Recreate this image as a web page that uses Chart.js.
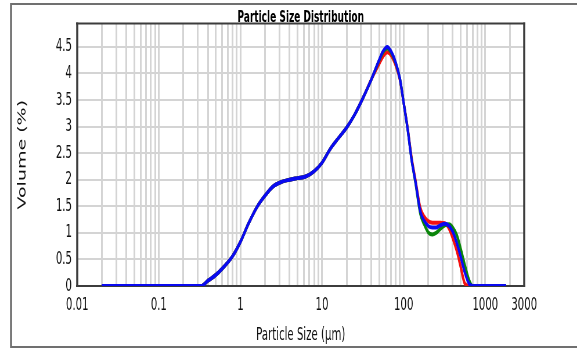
<!DOCTYPE html>
<html>
<head>
<meta charset="utf-8">
<script src="https://cdn.jsdelivr.net/npm/chart.js@4.4.1/dist/chart.umd.min.js"></script>
<style>
    html, body { margin: 0; padding: 0; background: #fff; overflow: hidden; }
    /* the original picture is squeezed sideways, so draw wide and squeeze */
    #wrap { width: 994px; height: 349px; transform: scaleX(0.5805); transform-origin: 0 0; }
</style>
</head>
<body>
<div id="wrap"><canvas id="grafikPsd" width="994" height="349"></canvas></div>
<script>
// ukuran partikel (um), sumbu x
const sizes = [0.02, 0.1, 0.3, 0.33, 0.4, 0.5, 0.6, 0.8, 1, 1.26, 1.6, 2, 2.5, 3.2, 4, 5, 6.3, 8, 10, 12.6, 16, 20, 25, 32, 40, 50, 56, 63, 71, 80, 90, 100, 112, 125, 140, 160, 180, 200, 225, 250, 280, 320, 360, 400, 450, 500, 560, 630, 700, 800, 1800];

// volume (%) tiap pengukuran
const volumeBiru = [0, 0, 0, 0, 0.10, 0.21, 0.33, 0.56, 0.83, 1.18, 1.49, 1.70, 1.87, 1.96, 2.00, 2.03, 2.06, 2.16, 2.32, 2.58, 2.79, 2.98, 3.22, 3.55, 3.88, 4.25, 4.42, 4.50, 4.40, 4.20, 3.90, 3.45, 2.95, 2.38, 1.95, 1.40, 1.22, 1.13, 1.10, 1.10, 1.14, 1.17, 1.13, 1.02, 0.80, 0.55, 0.26, 0.05, 0, 0, 0];
const volumeHijau = [0, 0, 0, 0, 0.10, 0.21, 0.33, 0.56, 0.83, 1.18, 1.49, 1.70, 1.87, 1.96, 2.00, 2.03, 2.06, 2.16, 2.32, 2.58, 2.79, 2.98, 3.22, 3.55, 3.88, 4.24, 4.40, 4.47, 4.38, 4.19, 3.90, 3.45, 2.95, 2.38, 1.93, 1.36, 1.15, 1.01, 0.97, 1.00, 1.07, 1.14, 1.16, 1.10, 0.95, 0.70, 0.40, 0.12, 0, 0, 0];
const volumeMerah = [0, 0, 0, 0, 0.10, 0.21, 0.33, 0.56, 0.83, 1.18, 1.49, 1.70, 1.87, 1.96, 2.00, 2.03, 2.06, 2.16, 2.32, 2.58, 2.79, 2.98, 3.22, 3.55, 3.88, 4.18, 4.32, 4.40, 4.33, 4.15, 3.88, 3.45, 2.97, 2.42, 1.98, 1.47, 1.30, 1.22, 1.19, 1.19, 1.19, 1.18, 1.08, 0.90, 0.65, 0.36, 0.05, 0, 0, 0, 0];

// label sumbu
const xTickLabels = [0.01, 0.1, 1, 10, 100, 1000, 3000];
const yTicks = [0, 0.5, 1, 1.5, 2, 2.5, 3, 3.5, 4, 4.5];

document.addEventListener('DOMContentLoaded', function () {
    const FONT = "'DejaVu Sans', sans-serif";

    // bingkai luar dan bingkai area plot
    const bingkai = {
        id: 'bingkai',
        beforeDraw(chart) {
            const c = chart.ctx;
            c.save();
            c.fillStyle = '#fff';
            c.fillRect(0, 0, chart.width, chart.height);
            c.strokeStyle = '#707070';
            c.lineWidth = 2;
            c.beginPath();
            c.moveTo(chart.width, 4);
            c.lineTo(19, 4);
            c.moveTo(19, 347);
            c.lineTo(chart.width, 347);
            c.stroke();
            c.lineWidth = 3.5;
            c.beginPath();
            c.moveTo(19, 3);
            c.lineTo(19, 348);
            c.stroke();
            c.restore();
        },
        beforeDatasetsDraw(chart) {
            const a = chart.chartArea;
            const c = chart.ctx;
            c.save();
            c.strokeStyle = '#3c3c3c';
            c.lineWidth = 2;
            c.beginPath();
            c.moveTo(a.left - 2, a.top);
            c.lineTo(a.right + 2, a.top);
            c.moveTo(a.left - 2, a.bottom);
            c.lineTo(a.right + 2, a.bottom);
            c.stroke();
            c.lineWidth = 3.5;
            c.beginPath();
            c.moveTo(a.left, a.top - 1);
            c.lineTo(a.left, a.bottom + 1);
            c.moveTo(a.right, a.top - 1);
            c.lineTo(a.right, a.bottom + 1);
            c.stroke();
            c.restore();
        }
    };

    const garis = (label, data, warna) => ({
        label: label,
        data: data,
        borderColor: warna,
        backgroundColor: warna,
        borderWidth: 4,
        pointRadius: 0,
        cubicInterpolationMode: 'monotone',
        fill: false
    });

    const config = {
        type: 'line',
        data: {
            labels: sizes,
            datasets: [
                garis('Biru', volumeBiru, '#0a0af0'),
                garis('Hijau', volumeHijau, '#0a860a'),
                garis('Merah', volumeMerah, '#f41010')
            ]
        },
        options: {
            responsive: false,
            animation: false,
            devicePixelRatio: 1,
            layout: { padding: { left: 0, right: 91, top: 0, bottom: 0 } },
            plugins: {
                legend: { display: false },
                tooltip: { enabled: false },
                title: {
                    display: true,
                    text: 'Particle Size Distribution',
                    fullSize: false,
                    color: '#000',
                    font: { family: FONT, weight: 'bold', size: 15.5, lineHeight: 1 },
                    padding: { top: 10, bottom: -2 }
                }
            },
            scales: {
                x: {
                    type: 'logarithmic',
                    min: 0.01,
                    max: 3000,
                    afterBuildTicks(scale) {
                        const ticks = [];
                        [0.01, 0.1, 1, 10, 100, 1000].forEach(d => {
                            for (let m = 1; m <= 9; m++) {
                                if (d === 1000 && m > 3) break;
                                ticks.push({ value: m === 1 ? d : d * m });
                            }
                        });
                        scale.ticks = ticks;
                    },
                    afterFit(scale) { scale.height = 63; },
                    border: { display: false },
                    grid: { color: '#d4d4d4', lineWidth: 3, drawTicks: false },
                    ticks: {
                        autoSkip: false,
                        maxRotation: 0,
                        minRotation: 0,
                        padding: 9,
                        color: '#111',
                        font: { family: FONT, size: 17.5 },
                        callback: (v) => xTickLabels.includes(v) ? String(v) : ''
                    },
                    title: {
                        display: true,
                        text: 'Particle Size (µm)',
                        color: '#111',
                        font: { family: FONT, size: 17.5 },
                        padding: { top: 0, bottom: 3.5 }
                    }
                },
                y: {
                    min: 0,
                    max: 4.94,
                    afterBuildTicks(scale) {
                        scale.ticks = yTicks.map(v => ({ value: v }));
                    },
                    afterFit(scale) { scale.width = 133; },
                    border: { display: false },
                    grid: { color: '#d4d4d4', lineWidth: 2, drawTicks: false },
                    ticks: {
                        padding: 9,
                        color: '#111',
                        font: { family: FONT, size: 17.5 },
                        callback: (v) => String(v)
                    },
                    title: {
                        display: true,
                        text: 'Volume (%)',
                        color: '#111',
                        font: { family: FONT, size: 19 },
                        padding: { top: 28, bottom: 0 }
                    }
                }
            }
        },
        plugins: [bingkai]
    };

    const ctx = document.getElementById('grafikPsd').getContext('2d');
    new Chart(ctx, config);
});
</script>
</body>
</html>
